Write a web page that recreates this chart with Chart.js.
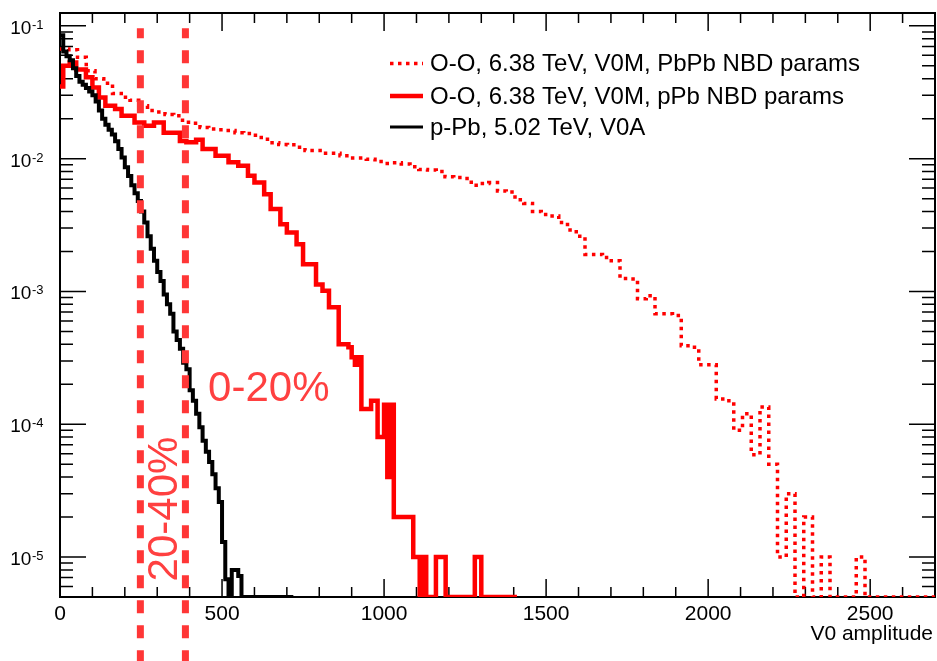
<!DOCTYPE html>
<html>
<head>
<meta charset="utf-8">
<title>V0 amplitude distributions</title>
<script src="https://cdn.jsdelivr.net/npm/chart.js@4.4.1/dist/chart.umd.min.js"></script>
<style>
  html, body { margin: 0; padding: 0; background: #fff; }
  #chart { display: block; }
</style>
</head>
<body>
<canvas id="chart" width="937" height="661"></canvas>
<script>
// Axis ranges
const xMin = 0, xMax = 2700;
const yMin = 5e-6, yMax = 0.125;
const xMajorTicks = [0, 500, 1000, 1500, 2000, 2500];
const yMajorExponents = [-5, -4, -3, -2, -1];

// Legend labels
const seriesLabels = [
  'O-O, 6.38 TeV, V0M, PbPb NBD params',
  'O-O, 6.38 TeV, V0M, pPb NBD params',
  'p-Pb, 5.02 TeV, V0A'
];

// Centrality cuts (V0 amplitude) and their labels
const centralityCuts = [248, 387];
const centralityLabels = ['20-40%', '0-20%'];

// O-O, PbPb NBD params (bin width 27)
const ooPbPbBinWidth = 27;
const ooPbPbValues = [
  0.067, 0.066, 0.058, 0.046, 0.040, 0.037, 0.031, 0.029, 0.0275, 0.025,
  0.023, 0.0225, 0.0215, 0.021, 0.0188, 0.0185, 0.0172, 0.0167, 0.0165, 0.0163,
  0.0157, 0.0155, 0.015, 0.014, 0.0132, 0.0128, 0.0127, 0.0122, 0.0115, 0.0115,
  0.011, 0.011, 0.0105, 0.0101, 0.0101, 0.0099, 0.0095, 0.0092, 0.0093, 0.0091,
  0.0087, 0.0083, 0.0082, 0.008, 0.0073, 0.0072, 0.0071, 0.0063, 0.0065, 0.0066,
  0.0057, 0.0056, 0.0049, 0.0046, 0.0040, 0.0038, 0.0037, 0.0033, 0.0029, 0.0026,
  0.0019, 0.0019, 0.0018, 0.0017, 0.00125, 0.00124, 0.00088, 0.00093, 0.00068, 0.00068,
  0.00066, 0.00039, 0.00038, 0.00028, 0.00028, 0.000155, 0.00015, 0.00009, 0.00012, 0.000059,
  0.000135, 0.00005, 0.00001, 0.00003, 0, 0.00002, 0, 0.00001, 0, 0,
  0, 0.00001, 0, 0, 0, 0, 0, 0, 0, 0
];

// O-O, pPb NBD params (bin width 10)
const ooPPbBinWidth = 10;
const ooPPbValues = [
  0.035, 0.050, 0.050, 0.053, 0.053, 0.047, 0.047, 0.047, 0.041, 0.041,
  0.0344, 0.0344, 0.0289, 0.0289, 0.025, 0.025, 0.025, 0.0237, 0.0237, 0.021,
  0.021, 0.021, 0.021, 0.0187, 0.0187, 0.0187, 0.0177, 0.0177, 0.0177, 0.0187,
  0.0187, 0.0187, 0.0157, 0.0157, 0.0157, 0.0157, 0.0157, 0.0136, 0.0136, 0.0133,
  0.0133, 0.0133, 0.0139, 0.0139, 0.0118, 0.0118, 0.0118, 0.0118, 0.0105, 0.0105,
  0.0105, 0.0105, 0.0094, 0.0094, 0.0094, 0.00885, 0.00885, 0.00885, 0.00744, 0.00744,
  0.00662, 0.00662, 0.00662, 0.0054, 0.0054, 0.00417, 0.00417, 0.00417, 0.00321, 0.00321,
  0.00278, 0.00278, 0.00278, 0.00227, 0.00227, 0.0016, 0.0016, 0.0016, 0.0016, 0.00113,
  0.00113, 0.00101, 0.00101, 0.00076, 0.00076, 0.00076, 0.0004, 0.0004, 0.0004, 0.00038,
  0.00032, 0.00028, 0.00032, 0.00013, 0.00013, 0.00013, 0.00015, 0.00015, 0.00008, 0.00008,
  0.00014, 0.00004, 0.00014, 0.00002, 0.00002, 0.00002, 0.00002, 0.00002, 0.00002, 0.00001,
  0.00001, 0, 0.00001, 0, 0, 0, 0.00001, 0.00001, 0.00001, 0,
  0, 0, 0, 0, 0, 0, 0, 0, 0.00001, 0.00001,
  0, 0, 0, 0, 0, 0, 0, 0, 0, 0,
  0
];

// p-Pb, 5.02 TeV, V0A (bin width 10)
const pPbBinWidth = 10;
const pPbValues = [
  0.085, 0.064, 0.059, 0.055, 0.048, 0.042, 0.038, 0.036, 0.034, 0.032,
  0.030, 0.027, 0.023, 0.020, 0.018, 0.0165, 0.0152, 0.0135, 0.0118, 0.0102,
  0.0086, 0.0074, 0.0063, 0.0055, 0.0048, 0.004, 0.0033, 0.0026, 0.0021, 0.0017,
  0.0014, 0.0012, 0.00095, 0.0008, 0.00068, 0.0005, 0.00043, 0.00037, 0.00029, 0.00026,
  0.00018, 0.00015, 0.00012, 0.000095, 0.000075, 0.000062, 0.000052, 0.000042, 0.000033, 0.000026,
  0.000013, 0.0000068, 0, 0.000008, 0.000008, 0.0000072, 0, 0, 0, 0,
  0, 0, 0, 0, 0, 0, 0, 0, 0, 0,
  0, 0
];

// Turn bin contents into step points (empty bins sit on the axis)
function histPoints(values, binWidth) {
  const pts = values.map((v, i) => ({ x: i * binWidth, y: v > 0 ? v : yMin }));
  const last = pts[pts.length - 1].y;
  pts.push({ x: values.length * binWidth, y: last });
  return pts;
}

const FONT = '"Liberation Sans", Arial, Helvetica, sans-serif';
const cutColor = '#ff3636';

const seriesStyles = [
  { color: '#ff0000', width: 3.5, dash: [3.5, 4.5] },
  { color: '#ff0000', width: 4.5, dash: [] },
  { color: '#000000', width: 4, dash: [] }
];

// ROOT-like frame, ticks, labels, legend and centrality lines
const rootStyle = {
  id: 'rootStyle',
  beforeDatasetsDraw(chart) {
    const { ctx, chartArea: a, scales: { x, y } } = chart;
    ctx.save();
    ctx.strokeStyle = '#000';
    ctx.lineWidth = 2;
    ctx.strokeRect(a.left, a.top, a.right - a.left, a.bottom - a.top);

    // x ticks, bottom and top
    ctx.lineWidth = 1.5;
    ctx.beginPath();
    for (let v = xMin; v <= xMax; v += 100) {
      const px = x.getPixelForValue(v);
      const len = v % 500 === 0 ? 18 : 10;
      ctx.moveTo(px, a.bottom); ctx.lineTo(px, a.bottom - len);
      ctx.moveTo(px, a.top); ctx.lineTo(px, a.top + len);
    }
    // y ticks, left and right
    for (let e = -6; e <= -1; e++) {
      for (let m = 1; m <= 9; m++) {
        const v = m * Math.pow(10, e);
        if (v < yMin * 0.999 || v > yMax) continue;
        const py = y.getPixelForValue(v);
        const len = m === 1 ? 26 : 13;
        ctx.moveTo(a.left, py); ctx.lineTo(a.left + len, py);
        ctx.moveTo(a.right, py); ctx.lineTo(a.right - len, py);
      }
    }
    ctx.stroke();

    // tick labels
    ctx.fillStyle = '#000';
    ctx.font = '21px ' + FONT;
    ctx.textAlign = 'center';
    ctx.textBaseline = 'alphabetic';
    xMajorTicks.forEach(v => ctx.fillText(String(v), x.getPixelForValue(v), a.bottom + 23));
    ctx.textAlign = 'right';
    ctx.fillText('V0 amplitude', a.right - 2, a.bottom + 43);

    yMajorExponents.forEach(e => {
      const py = y.getPixelForValue(Math.pow(10, e));
      ctx.textAlign = 'left';
      ctx.font = '13px ' + FONT;
      const sup = '-' + Math.abs(e);
      const supW = ctx.measureText(sup).width;
      ctx.font = '19px ' + FONT;
      const baseW = ctx.measureText('10').width;
      const x0 = a.left - 17 - supW - baseW;
      ctx.fillText('10', x0, py + 8);
      ctx.font = '13px ' + FONT;
      ctx.fillText(sup, x0 + baseW + 0.5, py + 3);
    });

    // legend
    const lx = 390, lw = 33;
    const rowY = [63.5, 96, 127];
    ctx.font = '24px ' + FONT;
    ctx.textBaseline = 'middle';
    ctx.textAlign = 'left';
    seriesLabels.forEach((label, i) => {
      const s = seriesStyles[i];
      ctx.save();
      ctx.strokeStyle = s.color;
      ctx.lineWidth = i === 2 ? 3 : s.width;
      ctx.setLineDash(s.dash);
      ctx.beginPath();
      ctx.moveTo(lx, rowY[i]); ctx.lineTo(lx + lw, rowY[i]);
      ctx.stroke();
      ctx.restore();
      ctx.fillStyle = '#000';
      ctx.fillText(label, lx + 40, rowY[i] + 1);
    });
    ctx.restore();
  },
  afterDatasetsDraw(chart) {
    const { ctx, scales: { x, y } } = chart;
    ctx.save();
    ctx.strokeStyle = cutColor;
    ctx.lineWidth = 7;
    ctx.setLineDash([13, 12]);
    ctx.lineDashOffset = 3;
    centralityCuts.forEach(v => {
      const px = x.getPixelForValue(v);
      ctx.beginPath();
      ctx.moveTo(px, y.getPixelForValue(0.096));
      ctx.lineTo(px, chart.height);
      ctx.stroke();
    });
    ctx.setLineDash([]);

    ctx.fillStyle = '#ff4040';
    ctx.font = '42px ' + FONT;
    ctx.textBaseline = 'alphabetic';
    // 0-20% label to the right of the upper cut
    ctx.textAlign = 'left';
    ctx.fillText(centralityLabels[1], x.getPixelForValue(457), y.getPixelForValue(1.5e-4));
    // 20-40% label, vertical, between the cuts
    ctx.save();
    ctx.translate(x.getPixelForValue(362), y.getPixelForValue(2.3e-5));
    ctx.rotate(-Math.PI / 2);
    ctx.textAlign = 'center';
    ctx.fillText(centralityLabels[0], 0, 0);
    ctx.restore();
    ctx.restore();
  }
};

const datasets = [
  { data: histPoints(ooPbPbValues, ooPbPbBinWidth), style: seriesStyles[0], order: 2 },
  { data: histPoints(ooPPbValues, ooPPbBinWidth), style: seriesStyles[1], order: 1 },
  { data: histPoints(pPbValues, pPbBinWidth), style: seriesStyles[2], order: 0 }
].map((d, i) => ({
  label: seriesLabels[i],
  data: d.data,
  order: d.order,
  borderColor: d.style.color,
  borderWidth: d.style.width,
  borderDash: d.style.dash,
  borderCapStyle: 'butt',
  borderJoinStyle: 'miter',
  stepped: true,
  fill: false,
  pointRadius: 0,
  tension: 0
}));

new Chart(document.getElementById('chart'), {
  type: 'line',
  data: { datasets },
  options: {
    responsive: false,
    animation: false,
    events: [],
    layout: { padding: { left: 60, right: 2, top: 13, bottom: 64 } },
    plugins: { legend: { display: false }, tooltip: { enabled: false } },
    scales: {
      x: { type: 'linear', min: xMin, max: xMax, display: false },
      y: { type: 'logarithmic', min: yMin, max: yMax, display: false }
    }
  },
  plugins: [rootStyle]
});
</script>
</body>
</html>
